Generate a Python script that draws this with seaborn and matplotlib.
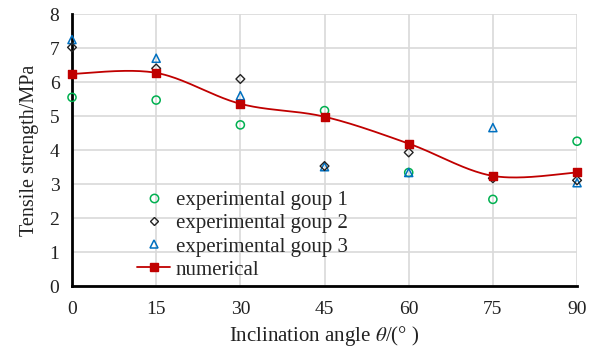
import numpy as np
import seaborn as sns
import matplotlib.pyplot as plt
from matplotlib.lines import Line2D

# values
angle = [0, 15, 30, 45, 60, 75, 90]
group1 = [5.55, 5.47, 4.74, 5.16, 3.34, 2.55, 4.26]
group2 = [7.02, 6.40, 6.09, 3.53, 3.93, 3.17, 3.11]
group3 = [7.25, 6.70, 5.60, 3.51, 3.34, 4.66, 3.04]
numerical = [6.24, 6.27, 5.36, 4.98, 4.19, 3.24, 3.34]

green = '#00B050'
blue = '#0070C0'
red = '#C00000'


def smooth(x, y, n=40):
    # catmull-rom through the points, like the spreadsheet "smoothed line"
    x = np.asarray(x, float)
    y = np.asarray(y, float)
    px = np.concatenate([[x[0]], x, [x[-1]]])
    py = np.concatenate([[y[0]], y, [y[-1]]])
    xs, ys = [], []
    for i in range(1, len(px) - 2):
        p0 = np.array([px[i], py[i]])
        p3 = np.array([px[i + 1], py[i + 1]])
        c1 = p0 + (np.array([px[i + 1], py[i + 1]]) - np.array([px[i - 1], py[i - 1]])) / 6
        c2 = p3 - (np.array([px[i + 2], py[i + 2]]) - np.array([px[i], py[i]])) / 6
        t = np.linspace(0, 1, n)[:, None]
        pts = (1 - t) ** 3 * p0 + 3 * (1 - t) ** 2 * t * c1 + 3 * (1 - t) * t ** 2 * c2 + t ** 3 * p3
        xs.extend(pts[:, 0])
        ys.extend(pts[:, 1])
    return np.array(xs), np.array(ys)


sns.set_style('whitegrid')
plt.rcParams['font.family'] = ['Liberation Serif', 'DejaVu Serif']
plt.rcParams['mathtext.fontset'] = 'stix'

fig = plt.figure(figsize=(5.97, 3.51), dpi=100)
ax = fig.add_axes([0.1206, 0.185, 0.846, 0.775])

sx, sy = smooth(angle, numerical)
sns.lineplot(x=sx, y=sy, ax=ax, color=red, lw=1.3, sort=False, estimator=None, zorder=3)
ax.scatter(angle, group1, marker='o', s=34, facecolors='none', edgecolors=green, linewidths=1.1, zorder=4, clip_on=False)
ax.scatter(angle, group2, marker='D', s=20, facecolors='none', edgecolors='#222222', linewidths=1.0, zorder=5, clip_on=False)
ax.scatter(angle, group3, marker='^', s=34, facecolors='none', edgecolors=blue, linewidths=1.1, zorder=4, clip_on=False)
ax.scatter(angle, numerical, marker='s', s=28, color=red, zorder=6, clip_on=False)

ax.set_xlim(0, 90)
ax.set_ylim(0, 8)
ax.set_xticks(angle)
ax.set_yticks(range(0, 9))
ax.grid(True, color='#d9d9d9', lw=1.2)
for s in ['top', 'right']:
    ax.spines[s].set_visible(False)
for s in ['left', 'bottom']:
    ax.spines[s].set_color('black')
    ax.spines[s].set_linewidth(2)
ax.tick_params(axis='both', direction='out', length=4, width=1.5, color='black',
               labelsize=14, labelcolor='#222222')
ax.tick_params(axis='x', pad=7)
ax.tick_params(axis='y', pad=5)

ax.set_xlabel(r'Inclination angle $\theta$/(° )', fontsize=15, color='#222222', labelpad=4)
ax.set_ylabel('Tensile strength/MPa', fontsize=14.5, color='#222222', labelpad=8)

handles = [
    Line2D([], [], ls='none', marker='o', ms=6, mfc='none', mec=green, mew=1.1),
    Line2D([], [], ls='none', marker='D', ms=4.5, mfc='none', mec='#222222', mew=1.0),
    Line2D([], [], ls='none', marker='^', ms=6, mfc='none', mec=blue, mew=1.1),
    Line2D([], [], color=red, lw=1.3, marker='s', ms=5.5, mfc=red, mec=red),
]
labels = ['experimental goup 1', 'experimental goup 2', 'experimental goup 3', 'numerical']
ax.legend(handles, labels, loc='lower left', bbox_to_anchor=(0.1, -0.03), frameon=False,
          fontsize=15, handlelength=1.6, handletextpad=0.25, labelspacing=0.17,
          borderaxespad=0.3)

fig.savefig('out.png', dpi=100)
